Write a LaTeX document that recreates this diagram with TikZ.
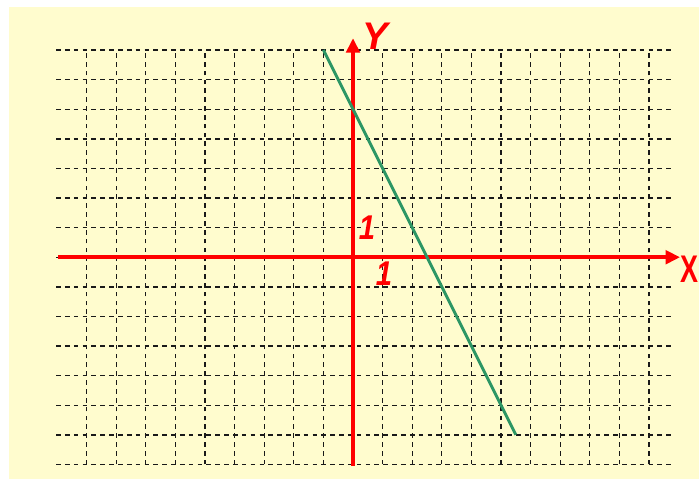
\documentclass[tikz,border=0pt]{standalone}
\usepackage{fontspec}
\setmainfont{Liberation Sans}
\usetikzlibrary{arrows.meta}
\definecolor{bgyellow}{RGB}{255,252,206}
\definecolor{axisred}{RGB}{255,0,0}
\definecolor{linegreen}{RGB}{45,150,100}
\begin{document}
\begin{tikzpicture}[x=1cm,y=1cm,
  gridline/.style={draw=black!90,line width=1.3pt,dash pattern=on 4.5pt off 4pt},
  axisline/.style={draw=axisred,line width=3.6pt,-{Triangle[length=14pt,width=13pt]}},
  axislabel/.style={text=axisred,font=\fontsize{37}{37}\selectfont\bfseries,inner sep=0pt},
  unitlabel/.style={text=axisred,font=\fontsize{33}{33}\selectfont\bfseries\itshape,inner sep=0pt},
  graphline/.style={draw=linegreen,line width=2.8pt}]
\useasboundingbox (-11.926,-7.507) rectangle (11.689,8.69);
\fill[white] (-11.926,-7.507) rectangle (11.689,8.69);
\fill[bgyellow] (-11.62,-7.507) rectangle (11.689,8.446);
% grid
\foreach \k in {-7,...,7} \draw[gridline] (-10.03,\k) -- (10.87,\k);
\foreach \k in {-9,...,10} \draw[gridline] (\k,-7) -- (\k,7);
% axes
\coordinate (xs) at (-9.95,0);
\coordinate (xe) at (11.05,0);
\coordinate (ys) at (0,-7.05);
\coordinate (ye) at (0,7.4);
\draw[axisline] (xs) -- (xe);
\draw[axisline] (ys) -- (ye);
\node[axislabel,xscale=0.7] (xl) at (11.37,-0.4) {X};
\node[axislabel,font=\fontsize{37}{37}\selectfont\bfseries\itshape] (yl) at (0.77,7.45) {Y};
\node[unitlabel,xscale=0.85] (one_y) at (0.47,1.0) {1};
\node[unitlabel,xscale=0.85] (one_x) at (1.05,-0.55) {1};
% graph y = 5 - 2x
\coordinate (ga) at (-1,7);
\coordinate (gb) at (5.5,-6);
\draw[graphline] (ga) -- (gb);
\end{tikzpicture}
\end{document}
